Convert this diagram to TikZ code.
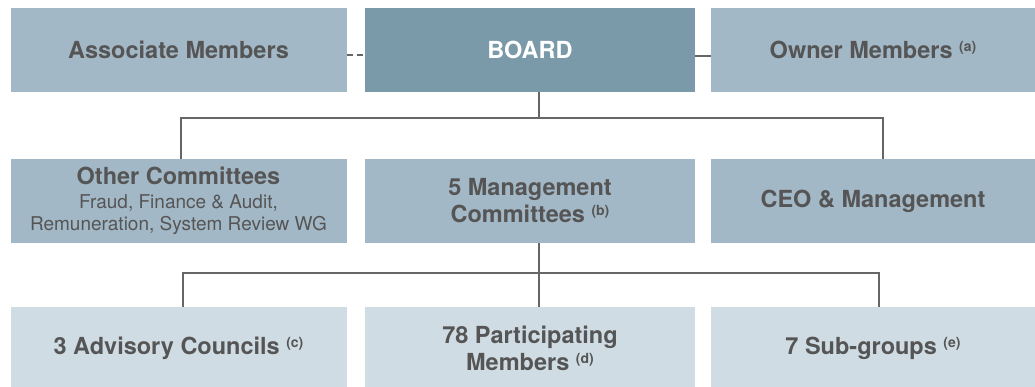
\documentclass[tikz,border=0pt]{standalone}
\usepackage{fontspec}
\setmainfont{TeX Gyre Heros}
\usepackage{xcolor}
\definecolor{boardColor}{RGB}{122, 153, 169}
\definecolor{midColor}{RGB}{163, 184, 198}
\definecolor{lowColor}{RGB}{208, 220, 228}
\definecolor{textColor}{RGB}{85, 85, 85}
\definecolor{lineColor}{RGB}{102, 102, 102}
\newcommand{\notemark}[1]{\raisebox{0.55ex}{\fontsize{14}{14}\selectfont(#1)}}

\begin{document}
\begin{tikzpicture}[x=1pt, y=-1pt,
    orgbox/.style={inner sep=0pt, minimum width=336pt, minimum height=84pt, align=center, text=textColor, font=\fontsize{23.5}{27}\selectfont\bfseries},
    link/.style={lineColor, line width=1.6pt}]
    \useasboundingbox (0,0) rectangle (1035,387);
    % top row
    \node[orgbox, fill=midColor] (assoc) at (178.5,50) {Associate Members};
    \node[orgbox, fill=boardColor, text=white, minimum width=330pt] (board) at (530,50) {BOARD};
    \node[orgbox, fill=midColor, minimum width=324pt] (owner) at (873,50) {Owner Members \notemark{a}};
    % middle row
    \node[orgbox, fill=midColor, font=\fontsize{19}{22.5}\selectfont] (other) at (178.5,201) {{\fontsize{23.5}{25}\selectfont\bfseries Other Committees}\\[1pt]Fraud, Finance \& Audit,\\Remuneration, System Review WG};
    \node[orgbox, fill=midColor, minimum width=330pt] (mgmt) at (530,201) {5 Management\\Committees \notemark{b}};
    \node[orgbox, fill=midColor, minimum width=324pt] (ceo) at (873,201) {CEO \& Management};
    % bottom row
    \node[orgbox, fill=lowColor, minimum height=82pt] (advisory) at (178.5,348) {3 Advisory Councils \notemark{c}};
    \node[orgbox, fill=lowColor, minimum width=330pt, minimum height=82pt] (participants) at (530,348) {78 Participating\\Members \notemark{d}};
    \node[orgbox, fill=lowColor, minimum width=324pt, minimum height=82pt] (subgroups) at (873,348) {7 Sub-groups \notemark{e}};
    % connectors
    \coordinate (split1) at (539,118);
    \coordinate (split2) at (539,273);
    \draw[link, dashed, dash pattern=on 6pt off 4pt] (assoc.east |- 0,55) -- (board.west |- 0,55);
    \draw[link] (board.east |- 0,56) -- (owner.west |- 0,56);
    \draw[link] (board.south -| split1) -- (split1);
    \draw[link] (other.north -| 181,0) |- (split1) -| (ceo.north -| 883,0);
    \draw[link] (mgmt.south -| split2) -- (split2);
    \draw[link] (advisory.north -| 183,0) |- (split2) -| (subgroups.north -| 879,0);
    \draw[link] (split2) -- (participants.north -| split2);
\end{tikzpicture}
\end{document}
